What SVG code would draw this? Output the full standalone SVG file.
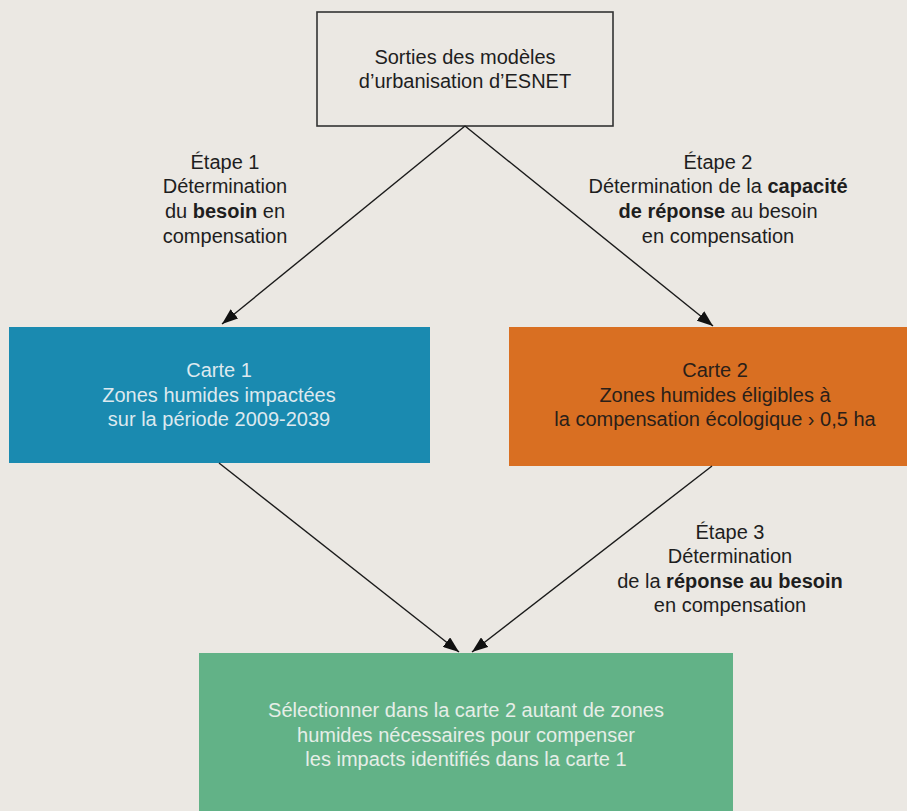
<svg xmlns="http://www.w3.org/2000/svg" width="907" height="811" viewBox="0 0 907 811">
<defs>
<style>
text{font-family:"Liberation Sans",Arial,sans-serif;font-size:20px;text-anchor:middle}
.dark{fill:#1e1e1e}
.light-b{fill:#dde9ef}
.light-g{fill:#e6eee7}
.on-orange{fill:#2a2019}
.b{font-weight:bold}
.conn line{stroke:#1a1a1a;stroke-width:1.4;fill:none}
</style>
<marker id="ah" markerUnits="userSpaceOnUse" markerWidth="16" markerHeight="12" refX="16" refY="6" orient="auto">
<path d="M0,0 L16,6 L0,12 z" fill="#111"/>
</marker>
</defs>
<rect width="907" height="811" fill="#ebe8e3"/>

<g id="node-top">
<rect x="317" y="12" width="296" height="114" fill="#ebe8e3" stroke="#333" stroke-width="1.6"/>
<text class="dark" x="465" y="64">Sorties des modèles</text>
<text class="dark" x="465" y="88">d’urbanisation d’ESNET</text>
</g>

<g id="node-carte1">
<rect x="9" y="327" width="421" height="136" fill="#1a8ab0"/>
<text class="light-b" x="219" y="377">Carte 1</text>
<text class="light-b" x="219" y="402">Zones humides impactées</text>
<text class="light-b" x="219" y="426">sur la période 2009-2039</text>
</g>

<g id="node-carte2">
<rect x="509" y="327" width="398" height="139" fill="#d96f22"/>
<text class="on-orange" x="715" y="377">Carte 2</text>
<text class="on-orange" x="715" y="402">Zones humides éligibles à</text>
<text class="on-orange" x="715" y="426">la compensation écologique › 0,5 ha</text>
</g>

<g id="node-select">
<rect x="199" y="653" width="534" height="158" fill="#62b287"/>
<text class="light-g" x="466" y="717">Sélectionner dans la carte 2 autant de zones</text>
<text class="light-g" x="466" y="742">humides nécessaires pour compenser</text>
<text class="light-g" x="466" y="766">les impacts identifiés dans la carte 1</text>
</g>

<g id="label-etape1">
<text class="dark" x="225" y="169">Étape 1</text>
<text class="dark" x="225" y="193">Détermination</text>
<text class="dark" x="225" y="218">du <tspan class="b">besoin</tspan> en</text>
<text class="dark" x="225" y="243">compensation</text>
</g>

<g id="label-etape2">
<text class="dark" x="718" y="169">Étape 2</text>
<text class="dark" x="718" y="193">Détermination de la <tspan class="b">capacité</tspan></text>
<text class="dark" x="718" y="218"><tspan class="b">de réponse</tspan> au besoin</text>
<text class="dark" x="718" y="243">en compensation</text>
</g>

<g id="label-etape3">
<text class="dark" x="730" y="539">Étape 3</text>
<text class="dark" x="730" y="563">Détermination</text>
<text class="dark" x="730" y="588">de la <tspan class="b">réponse au besoin</tspan></text>
<text class="dark" x="730" y="612">en compensation</text>
</g>

<g id="connectors" class="conn">
<line x1="465" y1="126" x2="222" y2="324" marker-end="url(#ah)"/>
<line x1="465" y1="126" x2="713" y2="326" marker-end="url(#ah)"/>
<line x1="219" y1="463" x2="459" y2="652" marker-end="url(#ah)"/>
<line x1="712" y1="466" x2="472" y2="652" marker-end="url(#ah)"/>
</g>
</svg>
